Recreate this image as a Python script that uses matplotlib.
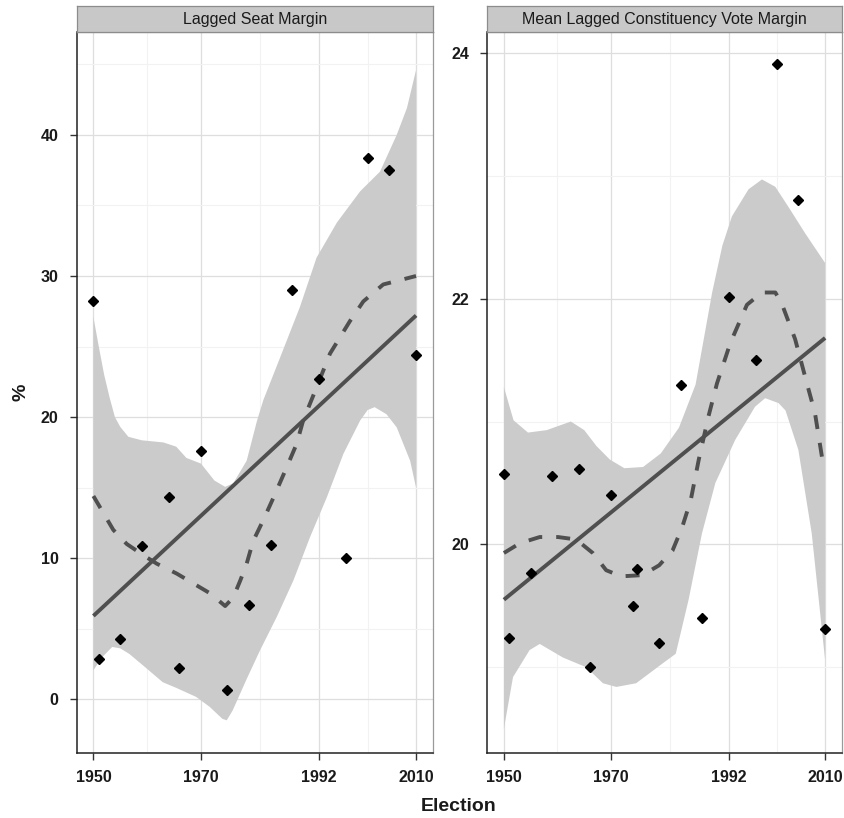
import numpy as np
import matplotlib
matplotlib.use("Agg")
from matplotlib import pyplot as plt

plt.rcParams['font.family'] = ['Liberation Sans', 'DejaVu Sans']

# election years (Oct 1974 = 1974.8, Feb 1974 = 1974.15)
seat_years = [1950, 1951, 1955, 1959, 1964, 1966, 1970, 1974.8, 1979, 1983, 1987, 1992, 1997, 2001, 2005, 2010]
seat_margin = [28.2, 2.85, 4.27, 10.85, 14.36, 2.18, 17.6, 0.66, 6.67, 10.94, 29.0, 22.7, 10.04, 38.4, 37.55, 24.4]

vote_years = [1950, 1951, 1955, 1959, 1964, 1966, 1970, 1974.15, 1974.8, 1979, 1983, 1987, 1992, 1997, 2001, 2005, 2010]
vote_margin = [20.57, 19.24, 19.77, 20.56, 20.61, 19.0, 20.40, 19.50, 19.80, 19.20, 21.30, 19.40, 22.01, 21.50, 23.91, 22.80, 19.31]

# linear fit (solid line)
lm_years = [1950, 2010]
seat_lm = [5.9, 27.2]
vote_lm = [19.55, 21.68]

# loess fit (dashed) and its band
seat_lo_x = [1950, 1953.7, 1956.2, 1959.3, 1961.8, 1965.5, 1968.6, 1971.7, 1974.5, 1976, 1977.3, 1978.5,
             1979.7, 1981.6, 1983.5, 1985.9, 1987.8, 1989.0, 1991.5, 1994.0, 1997.7, 2000.2, 2003.9, 2010]
seat_lo_y = [14.4, 12.0, 11.0, 10.2, 9.6, 8.9, 8.2, 7.5, 6.6, 7.2, 8.4, 9.6,
             11.2, 12.7, 14.3, 16.4, 18.1, 19.75, 22.1, 24.5, 26.8, 28.2, 29.4, 30.0]

seat_up_x = [1950, 1951, 1952, 1953, 1954, 1955, 1956.5, 1959, 1963, 1965.4, 1967.3, 1970, 1972.5, 1974.5,
             1976, 1978.5, 1980.4, 1981.6, 1984.7, 1988.4, 1991.5, 1995.3, 1999.6, 2003.3, 2006.4, 2008.3, 2010]
seat_up_y = [27.1, 25.0, 23.0, 21.4, 20.0, 19.3, 18.6, 18.35, 18.2, 17.9, 17.1, 16.7, 15.5, 15.05,
             15.3, 16.9, 19.7, 21.2, 24.2, 27.8, 31.3, 33.8, 36.0, 37.4, 40.0, 41.9, 44.6]
seat_low_x = [1950, 1951.7, 1953.5, 1955, 1956.7, 1959.2, 1962.9, 1965.4, 1969.1, 1971.6, 1974.0, 1974.8,
              1975.9, 1978.4, 1981.0, 1984.1, 1987.2, 1990.3, 1993.4, 1996.5, 1999.6, 2001.0, 2002.3, 2004.5,
              2006.4, 2008.9, 2010]
seat_low_y = [2.05, 3.0, 3.7, 3.6, 3.2, 2.4, 1.2, 0.8, 0.16, -0.54, -1.4, -1.5,
              -0.8, 1.34, 3.47, 5.83, 8.42, 11.5, 14.3, 17.4, 19.75, 20.5, 20.7, 20.2,
              19.27, 16.9, 15.0]

vote_lo_x = [1950, 1953, 1956.7, 1960.1, 1963.5, 1966.6, 1969.1, 1971.9, 1975.9, 1979.0, 1981.5, 1983.3,
             1984.9, 1986.4, 1988.2, 1989.8, 1992.3, 1995.4, 1998.2, 2000.7, 2001.9, 2004.4, 2006.6,
             2008.1, 2009.6, 2010]
vote_lo_y = [19.93, 20.01, 20.06, 20.06, 20.04, 19.93, 19.79, 19.74, 19.75, 19.83, 19.95, 20.14,
             20.36, 20.69, 21.04, 21.31, 21.64, 21.95, 22.05, 22.05, 21.96, 21.67, 21.31,
             21.07, 20.66, 20.62]

vote_up_x = [1950, 1951.8, 1954.5, 1958, 1962.5, 1965, 1967.3, 1969.8, 1972.5, 1976, 1979.3, 1982.7,
             1985.8, 1988.9, 1990.8, 1992.6, 1995.7, 1998.2, 2000.7, 2003.1, 2006.3, 2010]
vote_up_y = [21.28, 21.01, 20.91, 20.93, 21.0, 20.93, 20.8, 20.69, 20.62, 20.63, 20.74, 20.95,
             21.3, 22.05, 22.43, 22.67, 22.89, 22.97, 22.91, 22.75, 22.53, 22.29]
vote_low_x = [1950, 1951.7, 1954.8, 1956.7, 1961, 1965.4, 1968.5, 1971, 1974.7, 1979.6, 1982.1, 1984.5,
              1987, 1989.5, 1993.2, 1996.9, 1998.8, 2001.3, 2002.6, 2005, 2007.5, 2010]
vote_low_y = [18.50, 18.92, 19.14, 19.19, 19.08, 19.0, 18.87, 18.84, 18.87, 19.03, 19.11, 19.55,
              20.09, 20.5, 20.85, 21.12, 21.19, 21.15, 21.09, 20.77, 20.09, 19.06]

xticks = [1950, 1970, 1992, 2010]

fig = plt.figure(figsize=(8.45, 8.18), dpi=100)

panels = [
    dict(pos=[0.0908, 0.0791, 0.4213, 0.8818], title="Lagged Seat Margin",
         px=seat_years, py=seat_margin, lm=seat_lm, lox=seat_lo_x, loy=seat_lo_y,
         ux=seat_up_x, uy=seat_up_y, lx=seat_low_x, ly=seat_low_y,
         ylim=(-3.84, 47.3), major=[0, 10, 20, 30, 40], minor=[5, 15, 25, 35, 45]),
    dict(pos=[0.5767, 0.0791, 0.4194, 0.8818], title="Mean Lagged Constituency Vote Margin",
         px=vote_years, py=vote_margin, lm=vote_lm, lox=vote_lo_x, loy=vote_lo_y,
         ux=vote_up_x, uy=vote_up_y, lx=vote_low_x, ly=vote_low_y,
         ylim=(18.30, 24.17), major=[20, 22, 24], minor=[19, 21, 23]),
]

line_col = '#4f4f4f'
for p in panels:
    ax = fig.add_axes(p['pos'])
    ax.set_xlim(1946.9, 2013.1)
    ax.set_ylim(*p['ylim'])
    ax.set_xticks(xticks)
    ax.set_xticks([1960, 1981, 2001], minor=True)
    ax.set_yticks(p['major'])
    ax.set_yticks(p['minor'], minor=True)
    ax.grid(True, which='major', color='#dedede', lw=0.9, zorder=0)
    ax.grid(True, which='minor', color='#f2f2f2', lw=0.8, zorder=0)
    ax.set_axisbelow(True)

    # confidence band of the loess fit
    bx = np.concatenate([p['ux'], p['lx'][::-1]])
    by = np.concatenate([p['uy'], p['ly'][::-1]])
    ax.fill(bx, by, color='#cbcbcb', lw=0, zorder=1)

    ax.plot(lm_years, p['lm'], color=line_col, lw=2.8, solid_capstyle='butt', zorder=3)
    ax.plot(p['lox'], p['loy'], color=line_col, lw=2.8, dashes=(3.6, 3.6), zorder=3)
    ax.plot(p['px'], p['py'], 'D', color='black', markersize=5, zorder=4)

    ax.tick_params(which='major', length=5, width=1, color='#333333',
                   labelsize=11.5, labelcolor='#1a1a1a')
    ax.tick_params(axis='x', pad=7)
    ax.tick_params(axis='y', pad=8)
    ax.tick_params(which='minor', length=0)
    for lab in ax.get_xticklabels() + ax.get_yticklabels():
        lab.set_fontweight('bold')
    for s in ['left', 'bottom']:
        ax.spines[s].set_color('#222222')
        ax.spines[s].set_linewidth(1.1)
    for s in ['top', 'right']:
        ax.spines[s].set_color('#9a9a9a')
        ax.spines[s].set_linewidth(0.9)

    # facet strip
    sx = fig.add_axes([p['pos'][0], 0.9609, p['pos'][2], 0.0318])
    sx.set_facecolor('#c8c8c8')
    sx.set_xticks([])
    sx.set_yticks([])
    for s in sx.spines.values():
        s.set_color('#8c8c8c')
        s.set_linewidth(0.9)
    sx.text(0.5, 0.47, p['title'], ha='center', va='center', fontsize=11.5,
            color='#1a1a1a', transform=sx.transAxes)

fig.text(0.543, 0.004, "Election", ha='center', va='bottom', fontsize=14, fontweight='bold', color='#1a1a1a')
fig.text(0.025, 0.52, "%", ha='center', va='center', rotation=90, fontsize=14, fontweight='bold', color='#1a1a1a')

plt.savefig("out.png", dpi=100)
